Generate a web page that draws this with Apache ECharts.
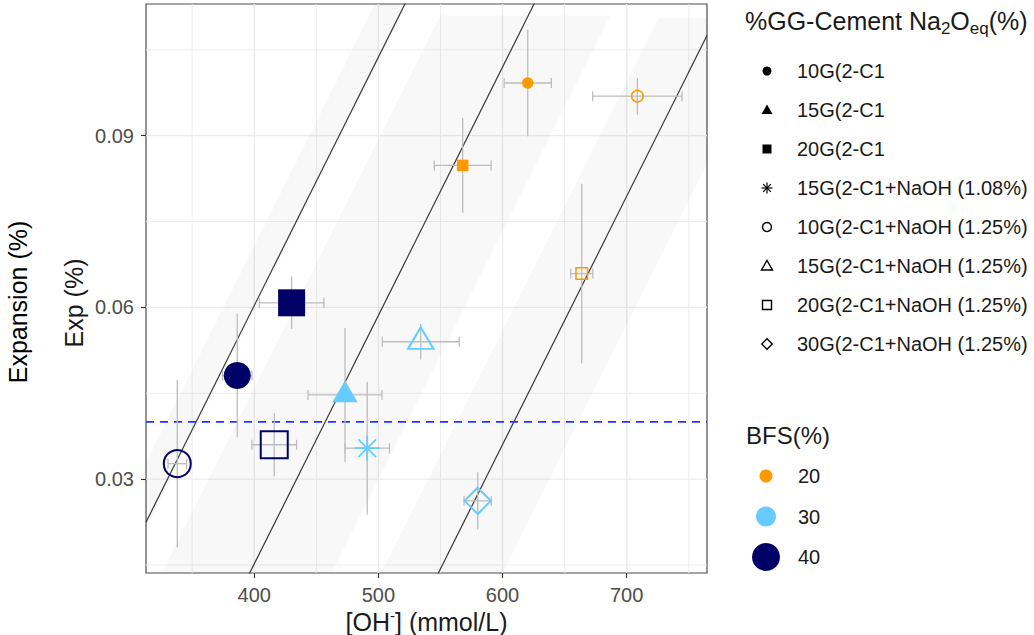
<!DOCTYPE html>
<html>
<head>
<meta charset="utf-8">
<script src="https://cdn.jsdelivr.net/npm/echarts@6/dist/echarts.min.js"></script>
<style>
  html, body { margin: 0; padding: 0; background: #ffffff; }
  #chart { width: 1034px; height: 635px; }
</style>
</head>
<body>
<div id="chart"></div>
<script>
// ---- mixes (shape legend) ----
const mixNames = [
  '10G(2-C1', '15G(2-C1', '20G(2-C1', '15G(2-C1+NaOH (1.08%)',
  '10G(2-C1+NaOH (1.25%)', '15G(2-C1+NaOH (1.25%)', '20G(2-C1+NaOH (1.25%)', '30G(2-C1+NaOH (1.25%)'
];
const mixShapes = ['circle', 'triangle', 'rect', 'asterisk', 'circle', 'triangle', 'rect', 'diamond'];
const mixHollow = [false, false, false, false, true, true, true, true];

// ---- BFS levels (colour / size legend) ----
const bfsLevels = [20, 30, 40];
const bfsColors = ['#FF9900', '#66CCFF', '#000066'];
const bfsSizes = [11.5, 25, 27];

// ---- measurements ----
const ptMix    = [0, 4, 2, 6, 1, 3, 5, 7, 0, 2, 4, 6];
const ptBfs    = [20, 20, 20, 20, 30, 30, 30, 30, 40, 40, 40, 40];
const ptOH     = [620.3, 708.6, 567.9, 663.8, 473.1, 491.0, 534.1, 580.0, 386.3, 430.1, 338.0, 416.1];
const ptExp    = [0.0992, 0.0969, 0.0848, 0.0659, 0.0447, 0.0354, 0.0540, 0.0262, 0.0481, 0.0608, 0.0327, 0.0360];
const ptOHErr  = [19, 36, 22.9, 8.9, 29.8, 17.9, 31, 11, 11.8, 26, 7.5, 18];
const ptExpErr = [0.0093, 0.0032, 0.0083, 0.0157, 0.0117, 0.0116, 0.0031, 0.005, 0.0108, 0.0046, 0.0146, 0.0055];

// ---- reference lines: Exp = slope * ([OH-] - OH0) ----
const limitSlope = 0.000434;
const limitOH0 = [261, 365, 517];

// ---- shaded bands along the reference lines (offsets in mmol/L, extent in Exp) ----
const bandLine = [0, 1, 2];
const bandLo   = [-24, -71, -46];
const bandHi   = [2, 66, 52];
const bandY0   = [0.0213, 0.0, 0.0];
const bandY1   = [0.2, 0.111, 0.1105];

const expLimit = 0.04;

// ---- axes ----
const X_MIN = 312.8, X_MAX = 764.7;
const Y_MIN = 0.0136, Y_MAX = 0.113;
const xTicks = [400, 500, 600, 700];
const xMinor = [350, 450, 550, 650, 750];
const yTicks = [0.03, 0.06, 0.09];
const yMinor = [0.015, 0.045, 0.075, 0.105];

const FONT = '"Liberation Sans", Arial, Helvetica, sans-serif';
const TEXT = '#1a1a1a';

const chart = echarts.init(document.getElementById('chart'), null, { renderer: 'svg' });

// grid lines
const gridData = [];
xTicks.forEach(v => gridData.push([v, 0, 1]));
xMinor.forEach(v => gridData.push([v, 0, 0]));
yTicks.forEach(v => gridData.push([v, 1, 1]));
yMinor.forEach(v => gridData.push([v, 1, 0]));

const gridSeries = {
  type: 'custom', silent: true, z: 0, clip: true,
  data: gridData, encode: { x: -1, y: -1 },
  renderItem(params, api) {
    const v = api.value(0), dir = api.value(1), major = api.value(2);
    const p1 = dir === 0 ? api.coord([v, Y_MIN]) : api.coord([X_MIN, v]);
    const p2 = dir === 0 ? api.coord([v, Y_MAX]) : api.coord([X_MAX, v]);
    return {
      type: 'line',
      shape: { x1: p1[0], y1: p1[1], x2: p2[0], y2: p2[1] },
      style: { stroke: '#ebebeb', lineWidth: major ? 1.4 : 0.9 }
    };
  }
};

// bands
const bandData = bandLine.map((l, i) => [l, bandLo[i], bandHi[i], bandY0[i], bandY1[i]]);
const bandSeries = {
  type: 'custom', silent: true, z: 1, clip: true,
  data: bandData, encode: { x: -1, y: -1 },
  renderItem(params, api) {
    const li = api.value(0), lo = api.value(1), hi = api.value(2), y0 = api.value(3), y1 = api.value(4);
    const xa = y => limitOH0[li] + y / limitSlope;
    const pts = [[xa(y0) + lo, y0], [xa(y0) + hi, y0], [xa(y1) + hi, y1], [xa(y1) + lo, y1]].map(p => api.coord(p));
    return { type: 'polygon', shape: { points: pts }, style: { fill: 'rgba(0,0,0,0.027)' } };
  }
};

// reference lines
const limitSeries = limitOH0.map(x0 => ({
  type: 'line', silent: true, z: 2, symbol: 'none', clip: true,
  data: [[X_MIN, limitSlope * (X_MIN - x0)], [X_MAX, limitSlope * (X_MAX - x0)]],
  lineStyle: { color: '#3a3a3a', width: 1.2 }
}));

// expansion limit
const expLimitSeries = {
  type: 'line', silent: true, z: 2, symbol: 'none',
  data: [[X_MIN, expLimit], [X_MAX, expLimit]],
  lineStyle: { color: '#2236ff', width: 1.7, type: [8, 6] }
};

// error bars
const errData = ptOH.map((x, i) => [x, ptExp[i], ptOHErr[i], ptExpErr[i]]);
const errSeries = {
  type: 'custom', silent: true, z: 3,
  data: errData, encode: { x: 0, y: 1 },
  renderItem(params, api) {
    const x = api.value(0), y = api.value(1), ex = api.value(2), ey = api.value(3);
    const v1 = api.coord([x, y - ey]), v2 = api.coord([x, y + ey]);
    const h1 = api.coord([x - ex, y]), h2 = api.coord([x + ex, y]);
    const cap = 5;
    const st = { stroke: '#bdbdbd', lineWidth: 1.3 };
    return {
      type: 'group', children: [
        { type: 'line', shape: { x1: v1[0], y1: v1[1], x2: v2[0], y2: v2[1] }, style: st },
        { type: 'line', shape: { x1: h1[0], y1: h1[1], x2: h2[0], y2: h2[1] }, style: st },
        { type: 'line', shape: { x1: h1[0], y1: h1[1] - cap, x2: h1[0], y2: h1[1] + cap }, style: st },
        { type: 'line', shape: { x1: h2[0], y1: h2[1] - cap, x2: h2[0], y2: h2[1] + cap }, style: st }
      ]
    };
  }
};

const ASTERISK = 'path://M0,-10L0,10M-10,0L10,0M-7.07,-7.07L7.07,7.07M-7.07,7.07L7.07,-7.07';

function symbolFor(shape) {
  if (shape === 'asterisk') return ASTERISK;
  return shape;
}
function sizeFor(shape, s) {
  if (shape === 'triangle') return [s * 1.02, s * 0.86];
  if (shape === 'diamond') return s * 1.05;
  return s;
}

// point series: one per mix
const pointSeries = mixNames.map((name, m) => {
  const shape = mixShapes[m];
  const hollow = mixHollow[m];
  const data = [];
  ptMix.forEach((mi, i) => {
    if (mi !== m) return;
    const b = bfsLevels.indexOf(ptBfs[i]);
    const c = bfsColors[b];
    const s = bfsSizes[b];
    const lw = s < 15 ? 1.5 : 2;
    let itemStyle;
    if (shape === 'asterisk') itemStyle = { color: 'none', borderColor: c, borderWidth: 1.8, opacity: 1 };
    else if (hollow) itemStyle = { color: 'rgba(0,0,0,0)', borderColor: c, borderWidth: lw, opacity: 1 };
    else itemStyle = { color: c, borderWidth: 0, opacity: 1 };
    const sz = sizeFor(shape, s);
    data.push({
      value: [ptOH[i], ptExp[i]],
      symbolSize: sz,
      symbolOffset: shape === 'triangle' ? [0, -(Array.isArray(sz) ? sz[1] : sz) / 6] : [0, 0],
      itemStyle
    });
  });
  return {
    type: 'scatter', name, z: 4, symbol: symbolFor(shape),
    itemStyle: { opacity: 1 },
    data, emphasis: { disabled: true }
  };
});

// ---- legends ----
function legendSymbol(shape, hollow, cx, cy, s, color) {
  const style = hollow ? { fill: 'none', stroke: color, lineWidth: 1.4 } : { fill: color };
  switch (shape) {
    case 'circle':
      return { type: 'circle', shape: { cx, cy, r: s / 2 }, style };
    case 'rect':
      return { type: 'rect', shape: { x: cx - s / 2, y: cy - s / 2, width: s, height: s }, style };
    case 'triangle':
      return { type: 'polygon', shape: { points: [[cx, cy - s * 0.55], [cx + s * 0.55, cy + s * 0.4], [cx - s * 0.55, cy + s * 0.4]] }, style };
    case 'diamond':
      return { type: 'polygon', shape: { points: [[cx, cy - s / 2], [cx + s / 2, cy], [cx, cy + s / 2], [cx - s / 2, cy]] }, style };
    case 'asterisk': {
      const r = s / 2, d = r * 0.707;
      const st = { stroke: color, lineWidth: 1.2 };
      return {
        type: 'group', children: [
          { type: 'line', shape: { x1: cx, y1: cy - r, x2: cx, y2: cy + r }, style: st },
          { type: 'line', shape: { x1: cx - r, y1: cy, x2: cx + r, y2: cy }, style: st },
          { type: 'line', shape: { x1: cx - d, y1: cy - d, x2: cx + d, y2: cy + d }, style: st },
          { type: 'line', shape: { x1: cx - d, y1: cy + d, x2: cx + d, y2: cy - d }, style: st }
        ]
      };
    }
  }
}

const legendEls = [];
legendEls.push({
  type: 'text', x: 745, y: 21,
  style: {
    text: '%GG-Cement Na{sub|2}O{sub|eq}(%)',
    fontSize: 25, fontFamily: FONT, fill: TEXT, align: 'left', verticalAlign: 'middle',
    rich: { sub: { fontSize: 17, fontFamily: FONT, fill: TEXT, padding: [14, 0, 0, 0] } }
  }
});
mixNames.forEach((name, i) => {
  const cy = 71 + i * 39;
  const s = { circle: 9, rect: 9, triangle: 10, diamond: 10.5, asterisk: 11 }[mixShapes[i]];
  legendEls.push(legendSymbol(mixShapes[i], mixHollow[i], 767, cy, s, '#000000'));
  legendEls.push({
    type: 'text', x: 797, y: cy,
    style: { text: name, fontSize: 20, fontFamily: FONT, fill: TEXT, align: 'left', verticalAlign: 'middle' }
  });
});
legendEls.push({
  type: 'text', x: 746, y: 435,
  style: { text: 'BFS(%)', fontSize: 24, fontFamily: FONT, fill: TEXT, align: 'left', verticalAlign: 'middle' }
});
const bfsLegendSizes = [13, 20, 28];
bfsLevels.forEach((lv, i) => {
  const cy = 476 + i * 40.5;
  legendEls.push({ type: 'circle', shape: { cx: 766, cy, r: bfsLegendSizes[i] / 2 }, style: { fill: bfsColors[i] } });
  legendEls.push({
    type: 'text', x: 798, y: cy,
    style: { text: String(lv), fontSize: 20, fontFamily: FONT, fill: TEXT, align: 'left', verticalAlign: 'middle' }
  });
});

// axis titles
legendEls.push({
  type: 'text', x: 18, y: 302, rotation: Math.PI / 2,
  style: { text: 'Expansion (%)', fontSize: 25, fontFamily: FONT, fill: '#000000', align: 'center', verticalAlign: 'middle' }
});
legendEls.push({
  type: 'text', x: 74, y: 303, rotation: Math.PI / 2,
  style: { text: 'Exp (%)', fontSize: 25, fontFamily: FONT, fill: TEXT, align: 'center', verticalAlign: 'middle' }
});
legendEls.push({
  type: 'text', x: 426.5, y: 622,
  style: {
    text: '[OH{sup|-}] (mmol/L)', fontSize: 25, fontFamily: FONT, fill: TEXT, align: 'center', verticalAlign: 'middle',
    rich: { sup: { fontSize: 15, fontFamily: FONT, fill: TEXT, padding: [0, 0, 14, 0] } }
  }
});

const option = {
  animation: false,
  backgroundColor: '#ffffff',
  grid: {
    left: 146, top: 4, width: 561, height: 569,
    show: true, backgroundColor: '#ffffff', borderColor: '#4d4d4d', borderWidth: 1.2
  },
  xAxis: {
    type: 'value', min: X_MIN, max: X_MAX,
    splitLine: { show: false },
    axisLine: { show: false },
    axisTick: { show: true, length: 5, customValues: xTicks, lineStyle: { color: '#333333', width: 1.1 } },
    axisLabel: { customValues: xTicks, fontSize: 20, fontFamily: FONT, color: '#4d4d4d', margin: 12 }
  },
  yAxis: {
    type: 'value', min: Y_MIN, max: Y_MAX,
    splitLine: { show: false },
    axisLine: { show: false },
    axisTick: { show: true, length: 5, customValues: yTicks, lineStyle: { color: '#333333', width: 1.1 } },
    axisLabel: {
      customValues: yTicks, fontSize: 20, fontFamily: FONT, color: '#4d4d4d', margin: 12,
      formatter: v => v.toFixed(2)
    }
  },
  graphic: legendEls,
  series: [gridSeries, bandSeries, ...limitSeries, expLimitSeries, errSeries, ...pointSeries]
};

chart.setOption(option);
</script>
</body>
</html>
